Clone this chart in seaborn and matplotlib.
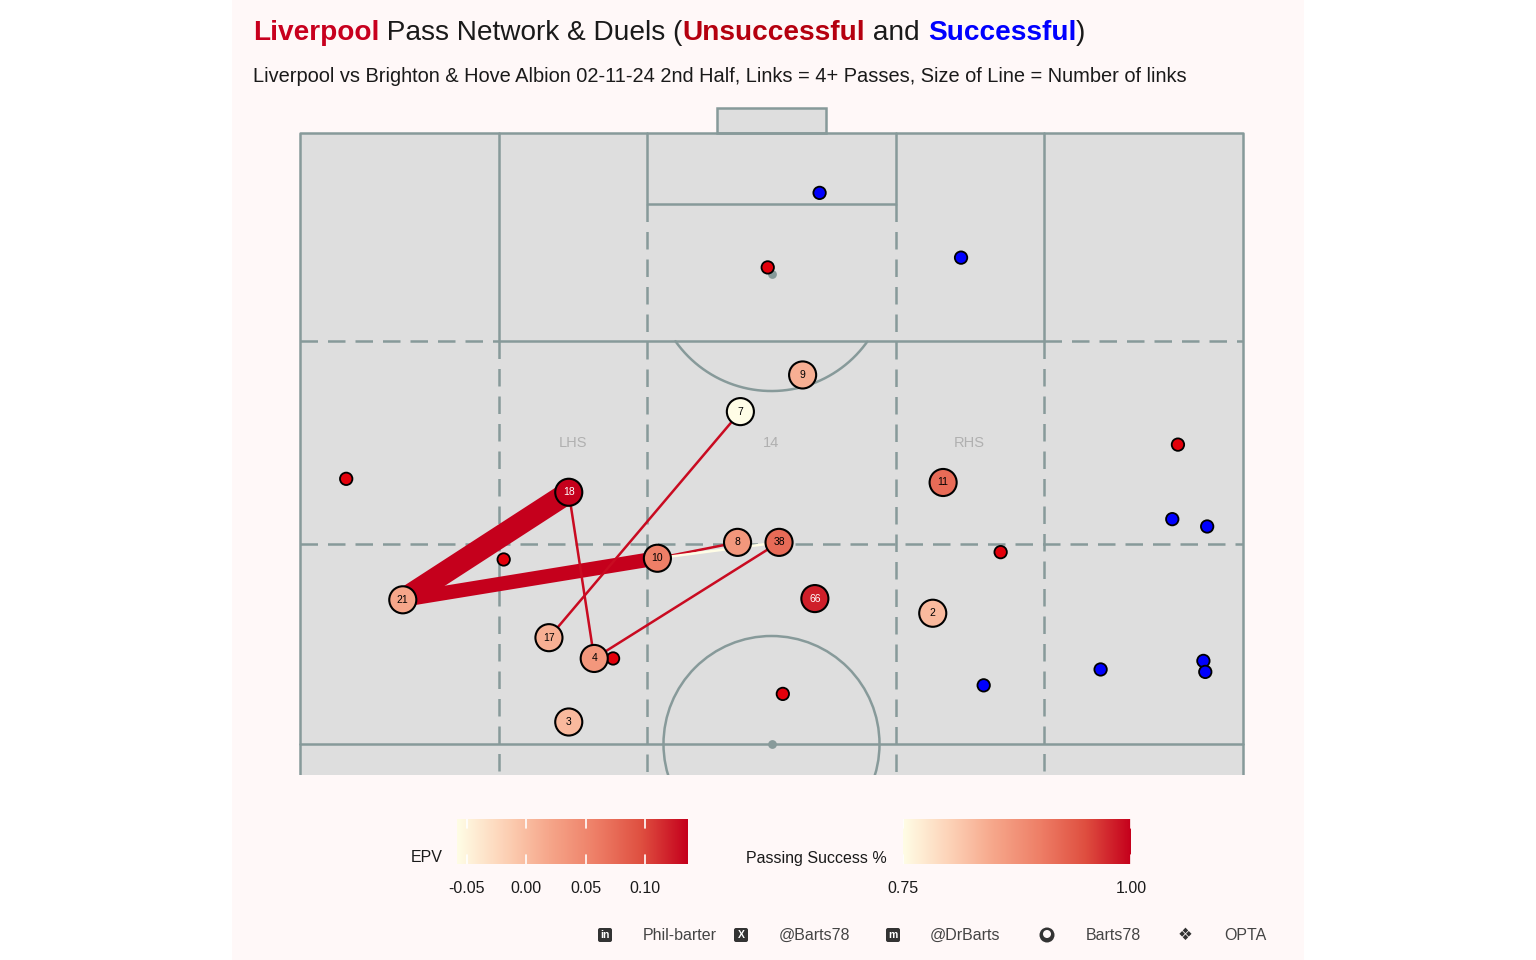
import numpy as np
import pandas as pd
import matplotlib
matplotlib.use("Agg")
import matplotlib.pyplot as plt
import seaborn as sns
from matplotlib.colors import LinearSegmentedColormap, Normalize
from matplotlib.patches import Rectangle, Ellipse, FancyBboxPatch, Circle
from matplotlib.transforms import IdentityTransform

# ---- data (Opta-like 0-100 pitch, attacking upwards) ----
player_nums = ["9", "7", "11", "18", "8", "38", "10", "21", "66", "2", "17", "4", "3"]
player_x = [53.3, 46.7, 68.2, 28.5, 46.4, 50.8, 37.9, 10.9, 54.6, 67.1, 26.4, 31.2, 28.5]
player_y = [80.2, 77.2, 71.4, 70.6, 66.5, 66.5, 65.2, 61.8, 61.9, 60.7, 58.7, 57.0, 51.8]
pass_success = [0.84, 0.75, 0.92, 1.00, 0.87, 0.92, 0.90, 0.85, 0.98, 0.83, 0.84, 0.87, 0.83]

link_from = ["21", "21", "10", "10", "18", "17", "4"]
link_to = ["18", "10", "8", "38", "4", "7", "38"]
link_passes = [14, 10, 4, 4, 4, 4, 4]
link_epv = [0.136, 0.136, 0.13, -0.058, 0.13, 0.13, 0.13]

duel_x = [49.6, 4.9, 93.1, 21.6, 74.3, 33.2, 51.2,
          55.1, 70.1, 92.5, 96.2, 84.9, 72.5, 95.8, 96.0]
duel_y = [89.0, 71.7, 74.5, 65.1, 65.7, 57.0, 54.1,
          95.1, 89.8, 68.4, 67.8, 56.1, 54.8, 56.8, 55.9]
duel_outcome = ["Unsuccessful"] * 7 + ["Successful"] * 8

zone_labels = ["LHS", "14", "RHS"]
zone_x = [29.0, 50.0, 71.0]
zone_y = [74.6, 74.6, 74.6]

epv_ticks = [-0.05, 0.00, 0.05, 0.10]
epv_range = (-0.0584, 0.136)
pass_ticks = [0.75, 1.00]
pass_range = (0.75, 1.00)

footer_texts = ["Phil-barter", "@Barts78", "@DrBarts", "Barts78", "OPTA"]

# ---- style ----
sns.set_theme(style="white")
plt.rcParams["font.family"] = ["Liberation Sans", "DejaVu Sans"]

PANEL = "#FFF8F8"
PITCH = "#DEDEDE"
LINE = "#879A9A"
RED = "#C8001E"
cmap = LinearSegmentedColormap.from_list(
    "epv", ["#FFFDE6", "#FDD3B8", "#F6A68A", "#EE7F67", "#DF4F40", "#C5001C"])

W, H = 1536, 960
fig = plt.figure(figsize=(W / 100, H / 100), dpi=100, facecolor="white")


def fx(px):
    return px / W


def fy(py):
    return 1 - py / H


fig.patches.append(Rectangle((fx(232), 0), fx(1304 - 232), 1, transform=fig.transFigure,
                             facecolor=PANEL, edgecolor="none", zorder=-10))

# pitch axes: x 0..100 -> 300..1243 px, y 100..50 -> 133..744 px
sx, sy = 9.43, 12.22
xlim = (-2, 102)
ylim = (47.46, 103.5)
ax = fig.add_axes([fx(300 + xlim[0] * sx), fy(133 + (100 - ylim[0]) * sy),
                   (xlim[1] - xlim[0]) * sx / W, (ylim[1] - ylim[0]) * sy / H])
ax.set_facecolor("none")

lw = 1.8
dash = (0, (7, 4))
ax.add_patch(Rectangle((0, 40), 100, 60, facecolor=PITCH, edgecolor="none", zorder=0))
ax.add_patch(Rectangle((44.2, 100), 11.6, 2.05, facecolor=PITCH, edgecolor=LINE, lw=lw, zorder=1))
ax.plot([0, 0, 100, 100], [40, 100, 100, 40], color=LINE, lw=lw, zorder=1)
ax.plot([0, 100], [50, 50], color=LINE, lw=lw, zorder=1)
ax.plot([21.1, 21.1, 78.9, 78.9], [100, 83, 83, 100], color=LINE, lw=lw, zorder=1)
ax.plot([36.8, 36.8, 63.2, 63.2], [100, 94.2, 94.2, 100], color=LINE, lw=lw, zorder=1)
for xv, ytop in [(21.1, 83), (78.9, 83), (36.8, 94.2), (63.2, 94.2)]:
    ax.plot([xv, xv], [ytop, 40], color=LINE, lw=lw, ls=dash, zorder=1)
ax.plot([0, 21.1], [83, 83], color=LINE, lw=lw, ls=dash, zorder=1)
ax.plot([78.9, 100], [83, 83], color=LINE, lw=lw, ls=dash, zorder=1)
ax.plot([0, 100], [66.4, 66.4], color=LINE, lw=lw, ls=dash, zorder=1)
ax.add_patch(Ellipse((50, 50), 2 * 108 / sx, 2 * 108 / sy, facecolor="none",
                     edgecolor=LINE, lw=lw, zorder=1))
t = np.linspace(0, 2 * np.pi, 600)
arc_x = 50 + 117.5 / sx * np.cos(t)
arc_y = 88.5 + 117.5 / sy * np.sin(t)
keep = arc_y < 83
order = np.argsort(arc_x[keep])
ax.plot(arc_x[keep][order], arc_y[keep][order], color=LINE, lw=lw, zorder=1)
ax.scatter([50, 50], [50, 88.5], s=40, color=LINE, zorder=1, linewidths=0)

for lab, zx, zy in zip(zone_labels, zone_x, zone_y):
    ax.text(zx, zy, lab, ha="center", va="center", fontsize=10.5, color="#B0B0B0", zorder=2)

# ---- links ----
nodes = pd.DataFrame({"num": player_nums, "x": player_x, "y": player_y, "pass_pct": pass_success})
pos = nodes.set_index("num")
links = pd.DataFrame({"src": link_from, "dst": link_to, "passes": link_passes, "epv": link_epv})
epv_norm = Normalize(*epv_range)
for _, r in links.iterrows():
    ax.plot([pos.loc[r.src, "x"], pos.loc[r.dst, "x"]],
            [pos.loc[r.src, "y"], pos.loc[r.dst, "y"]],
            color=cmap(epv_norm(r.epv)), lw=1.8 + (r.passes - 4) * 1.42,
            solid_capstyle="butt", zorder=3)

# ---- duels ----
duels = pd.DataFrame({"x": duel_x, "y": duel_y, "outcome": duel_outcome})
sns.scatterplot(data=duels, x="x", y="y", hue="outcome",
                palette={"Unsuccessful": "#E3000B", "Successful": "#0000FF"},
                s=80, edgecolor="black", linewidth=1.3, legend=False, ax=ax, zorder=4)

# ---- players ----
sns.scatterplot(data=nodes, x="x", y="y", hue="pass_pct", palette=cmap,
                hue_norm=pass_range, s=380, edgecolor="black", linewidth=1.5,
                legend=False, ax=ax, zorder=5)
for _, r in nodes.iterrows():
    ax.text(r.x, r.y, r.num, ha="center", va="center", fontsize=7.5,
            color="white" if r.pass_pct > 0.95 else "black", zorder=6)
ax.set_xlim(*xlim)
ax.set_ylim(*ylim)
ax.axis("off")

# ---- title (multi-coloured) ----
pieces = [("Liverpool", RED, "bold"), (" Pass Network & Duels (", "#1A1A1A", "normal"),
          ("Unsuccessful", "#B5000F", "bold"), (" and ", "#1A1A1A", "normal"),
          ("Successful", "#0000FF", "bold"), (")", "#1A1A1A", "normal")]
TS = 20.2
txt = fig.text(fx(253), fy(40), pieces[0][0], color=pieces[0][1], fontweight=pieces[0][2],
               fontsize=TS, va="baseline", ha="left")
for s, c, w in pieces[1:]:
    txt = ax.annotate(s, xy=(1, 0), xycoords=txt, color=c, fontweight=w, fontsize=TS,
                      va="bottom", ha="left", annotation_clip=False)

fig.text(fx(253), fy(82.5), "Liverpool vs Brighton & Hove Albion 02-11-24 2nd Half, "
         "Links = 4+ Passes, Size of Line = Number of links",
         fontsize=14.4, color="#1A1A1A", va="baseline", ha="left")

# ---- colour bars ----
def colour_bar(x0, x1, vrange, ticks, labels, title, title_x):
    cax = fig.add_axes([fx(x0), fy(864), fx(x1 - x0), (864 - 819) / H])
    grad = np.linspace(vrange[0], vrange[1], 256)[None, :]
    cax.imshow(grad, aspect="auto", cmap=cmap, extent=(vrange[0], vrange[1], 0, 1),
               vmin=vrange[0], vmax=vrange[1], interpolation="bilinear")
    cax.set_xlim(*vrange)
    cax.set_ylim(0, 1)
    cax.set_yticks([])
    cax.set_xticks(ticks)
    cax.set_xticklabels(labels)
    for tv in ticks:
        cax.plot([tv, tv], [0, 0.2], color="white", lw=1.2)
        cax.plot([tv, tv], [0.8, 1], color="white", lw=1.2)
    cax.tick_params(axis="x", length=0, pad=12, labelsize=11.5, labelcolor="#1A1A1A")
    for sp in cax.spines.values():
        sp.set_visible(False)
    fig.text(fx(title_x), fy(858), title, ha="right", va="center", fontsize=11.5,
             color="#1A1A1A")


colour_bar(457, 688, epv_range, epv_ticks, [f"{v:.2f}" for v in epv_ticks], "EPV", 443)
colour_bar(903, 1131, pass_range, pass_ticks, [f"{v:.2f}" for v in pass_ticks],
           "Passing Success %", 887)

# ---- footer ----
FOOT = "#444444"
FY = 935
icon_x = [605, 741, 893, 1047, 1185]
text_x = [643, 779, 930, 1086, 1224]
for tx, s in zip(text_x, footer_texts):
    fig.text(fx(tx), fy(FY), s, ha="left", va="center", fontsize=11.5, color=FOOT)

sq = 14
for ix, letter in zip(icon_x[:3], ["in", "X", "m"]):
    fig.patches.append(FancyBboxPatch((ix - sq / 2, H - FY - sq / 2), sq, sq,
                                      boxstyle="round,pad=0,rounding_size=2",
                                      transform=IdentityTransform(), facecolor="#333333",
                                      edgecolor="none"))
    fig.text(fx(ix), fy(FY + 0.5), letter, ha="center", va="center", fontsize=7.5,
             fontweight="bold", color="white")
fig.patches.append(Circle((icon_x[3], H - FY), 7.5, transform=IdentityTransform(),
                          facecolor="#333333", edgecolor="none"))
fig.patches.append(Circle((icon_x[3], H - FY + 1), 4, transform=IdentityTransform(),
                          facecolor=PANEL, edgecolor="none"))
fig.patches.append(Rectangle((icon_x[3] - 1.5, H - FY - 7), 3, 4, transform=IdentityTransform(),
                             facecolor="#333333", edgecolor="none"))
fig.text(fx(icon_x[4]), fy(FY), "\u2756", ha="center", va="center", fontsize=12,
         color="#333333", family="DejaVu Sans")

fig.savefig("out.png", dpi=100, facecolor="white")
